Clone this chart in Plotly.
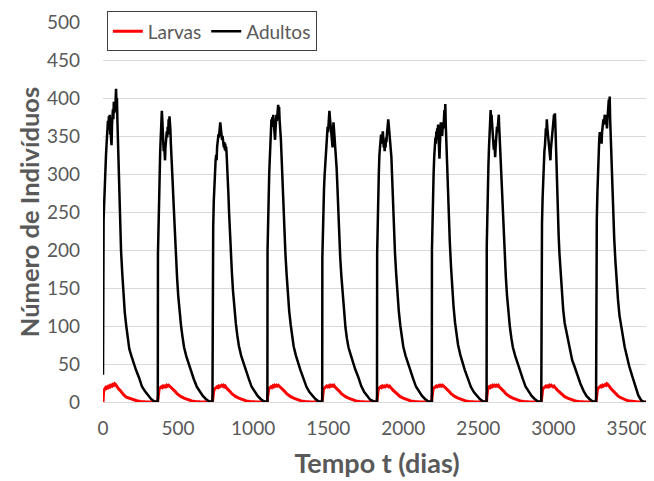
import plotly.graph_objects as go

# dias de inicio de cada ciclo anual
inicio_ciclo = [0, 365, 730, 1095, 1460, 1825, 2190, 2555, 2920, 3285]

# dias dentro de cada ciclo (adultos)
dias_ciclo = [0, 1, 4, 8, 12, 16, 20,
              24, 27, 30, 33, 36, 39, 42, 45, 48, 51, 54, 57, 60, 63, 66, 69, 72,
              75, 78, 81, 84, 87, 90, 93, 96,
              100, 105, 110, 115, 120, 128, 136, 145, 155, 165, 175, 190, 205,
              220, 240, 260, 280, 300, 320, 340, 364]

# adultos, um ciclo por linha
adultos = [
    [36, 205, 240, 262, 295, 312, 325,
     340, 362, 352, 370, 358, 376, 365, 378, 352, 360, 345, 338, 365, 378, 385, 372, 395,
     380, 392, 382, 398, 412, 390, 400, 370,
     342, 303, 262, 225, 200, 170, 140, 118, 100, 84, 70, 60, 50, 42, 32, 20, 14, 9, 4, 1, 0],
    [0, 195, 235, 270, 300, 330, 350,
     362, 383, 372, 350, 338, 330, 342, 322, 318, 335, 345, 340, 356, 348, 362, 352, 372,
     365, 376, 370, 358, 340, 330, 318, 305,
     285, 262, 235, 212, 192, 165, 140, 118, 100, 85, 72, 60, 50, 41, 30, 20, 13, 8, 4, 1, 0],
    [0, 190, 230, 265, 290, 305, 318,
     325, 318, 335, 345, 340, 352, 348, 360, 355, 368, 362, 352, 358, 345, 350, 340, 345,
     335, 342, 332, 340, 330, 336, 328, 318,
     300, 275, 248, 222, 200, 172, 146, 122, 103, 87, 74, 61, 51, 42, 31, 20, 13, 8, 4, 1, 0],
    [0, 200, 240, 275, 300, 320, 335,
     352, 372, 362, 375, 365, 378, 368, 360, 350, 345, 358, 365, 378, 370, 385, 375, 391,
     382, 388, 372, 365, 352, 345, 330, 312,
     295, 268, 240, 215, 195, 168, 143, 120, 102, 86, 73, 61, 50, 42, 31, 20, 13, 8, 4, 1, 0],
    [0, 190, 225, 255, 280, 298, 310,
     315, 328, 340, 352, 362, 355, 372, 365, 383, 375, 368, 372, 360, 352, 342, 335, 352,
     368, 360, 352, 345, 340, 332, 320, 308,
     290, 262, 238, 210, 190, 165, 142, 118, 98, 83, 72, 62, 52, 43, 33, 21, 13, 8, 3, 1, 0],
    [0, 195, 238, 270, 300, 325, 338,
     345, 352, 340, 350, 345, 356, 345, 335, 342, 330, 340, 335, 348, 342, 352, 360, 355,
     372, 365, 358, 355, 345, 340, 332, 322,
     300, 270, 242, 215, 195, 168, 143, 120, 101, 85, 73, 61, 51, 42, 31, 20, 13, 8, 4, 1, 0],
    [0, 200, 238, 270, 300, 322, 340,
     348, 340, 356, 345, 360, 352, 365, 345, 332, 320, 338, 355, 368, 355, 365, 350, 362,
     368, 360, 378, 384, 372, 392, 365, 345,
     325, 302, 270, 238, 210, 178, 150, 125, 104, 88, 75, 62, 51, 42, 31, 20, 13, 8, 4, 1, 0],
    [0, 205, 245, 280, 310, 335, 355,
     372, 384, 365, 378, 368, 355, 345, 340, 332, 345, 328, 322, 335, 345, 352, 362, 355,
     370, 365, 378, 362, 348, 338, 325, 310,
     290, 262, 235, 210, 190, 165, 140, 118, 99, 84, 72, 61, 51, 42, 31, 20, 13, 8, 4, 1, 0],
    [0, 195, 235, 268, 295, 315, 330,
     338, 348, 360, 352, 372, 362, 355, 348, 345, 335, 328, 322, 318, 332, 340, 345, 352,
     360, 372, 368, 378, 370, 380, 365, 340,
     305, 275, 245, 218, 196, 170, 145, 122, 104, 94, 80, 66, 55, 47, 35, 24, 15, 8, 4, 1, 0],
    [0, 200, 240, 275, 305, 328, 345,
     355, 348, 342, 350, 340, 355, 362, 368, 372, 365, 372, 378, 370, 378, 372, 365, 360,
     372, 382, 388, 398, 390, 402, 372, 352,
     330, 303, 272, 242, 215, 185, 158, 135, 114, 100, 90, 72, 58, 47, 34, 20, 9, 2, 0, 0, 0],
]

# dias dentro de cada ciclo (larvas)
dias_larvas = [0, 1, 4, 8, 12, 18, 24, 30, 36, 42, 48, 54, 60, 66, 72, 78, 84, 90, 96,
               105, 115, 128, 140, 155, 175, 200, 225, 250, 280, 364]

larvas = [
    [0, 6, 13, 16, 17, 19, 18, 20, 19, 21, 20, 22, 21, 23, 22, 24, 23, 21, 19,
     17, 15, 11, 9, 6.5, 4.8, 3, 1.6, 0.8, 0.2, 0],
    [0, 6, 12, 16, 18, 19, 20, 19, 21, 20, 21, 20, 22, 21, 22, 21, 20, 19, 18,
     16, 14, 11, 9, 7, 5, 3, 1.5, 0.7, 0.2, 0],
    [0, 5, 12, 15, 17, 18, 19, 20, 19, 21, 20, 21, 22, 21, 22, 20, 21, 19, 18,
     16, 14, 11, 9, 7, 5, 3, 1.5, 0.7, 0.2, 0],
    [0, 6, 13, 16, 18, 19, 20, 19, 21, 20, 22, 21, 22, 21, 22, 21, 20, 19, 18,
     16, 14, 11, 9, 7, 5, 3, 1.5, 0.7, 0.2, 0],
    [0, 6, 13, 16, 18, 19, 20, 21, 20, 21, 20, 22, 21, 22, 21, 22, 20, 19, 18,
     16, 14, 11, 9, 7, 5, 3, 1.5, 0.7, 0.2, 0],
    [0, 5, 12, 16, 18, 19, 20, 19, 21, 20, 21, 20, 21, 22, 21, 20, 21, 19, 18,
     16, 14, 11, 9, 7, 5, 3, 1.5, 0.7, 0.2, 0],
    [0, 6, 13, 16, 18, 19, 20, 21, 20, 21, 22, 21, 22, 21, 22, 21, 20, 19, 18,
     16, 14, 11, 9, 7, 5, 3, 1.5, 0.7, 0.2, 0],
    [0, 6, 13, 17, 18, 20, 19, 21, 20, 22, 21, 22, 21, 22, 21, 22, 20, 19, 18,
     16, 14, 11, 9, 7, 5, 3, 1.5, 0.7, 0.2, 0],
    [0, 6, 13, 16, 18, 19, 20, 21, 20, 21, 20, 22, 21, 22, 21, 20, 21, 19, 18,
     16, 14, 11, 9, 7, 5, 3, 1.5, 0.7, 0.2, 0],
    [0, 6, 13, 16, 18, 19, 20, 21, 20, 22, 21, 22, 23, 22, 24, 23, 22, 20, 18,
     16, 14, 11, 9, 6.5, 4.5, 2.5, 1.2, 0.5, 0.1, 0],
]

cinza = "#595959"

t_adultos, v_adultos = [], []
for ini, vals in zip(inicio_ciclo, adultos):
    t_adultos += [ini + d for d in dias_ciclo]
    v_adultos += vals

t_larvas, v_larvas = [], []
for ini, vals in zip(inicio_ciclo, larvas):
    t_larvas += [ini + d for d in dias_larvas]
    v_larvas += vals

fig = go.Figure()
fig.add_trace(go.Scatter(x=t_larvas, y=v_larvas, mode="lines", name="Larvas",
                         line=dict(color="#ff0000", width=3)))
fig.add_trace(go.Scatter(x=t_adultos, y=v_adultos, mode="lines", name="Adultos",
                         line=dict(color="#000000", width=2.5)))

# a pagina tem 8px de margem no body, por isso a figura e um pouco menor
fig.update_layout(
    width=646, height=473,
    margin=dict(l=95, r=3, t=10, b=79),
    paper_bgcolor="white", plot_bgcolor="white",
    font=dict(family="Lato, Carlito, sans-serif", color=cinza, size=19),
    legend=dict(orientation="h", x=0.007, y=1.028, xanchor="left", yanchor="top",
                bgcolor="white", bordercolor="#404040", borderwidth=1,
                font=dict(size=19, color=cinza), itemwidth=30, tracegroupgap=0),
    showlegend=True,
)
fig.update_xaxes(range=[0, 3650], dtick=500, tick0=0, showgrid=False, zeroline=False,
                 showline=True, linecolor="#d9d9d9", linewidth=1, ticks="",
                 ticklabelstandoff=9, ticklabeloverflow="allow",
                 title=dict(text="<b>Tempo t (dias)</b>", font=dict(size=27, color=cinza),
                            standoff=16))
fig.update_yaxes(range=[0, 500], dtick=50, tick0=0, showgrid=True, gridcolor="#d9d9d9",
                 gridwidth=1, zeroline=False, showline=False, ticks="",
                 ticklabelstandoff=22, ticklabeloverflow="allow",
                 title=dict(text="<b>Número de Indivíduos</b>", font=dict(size=25.5, color=cinza),
                            standoff=0))

fig.write_html("out.html")
